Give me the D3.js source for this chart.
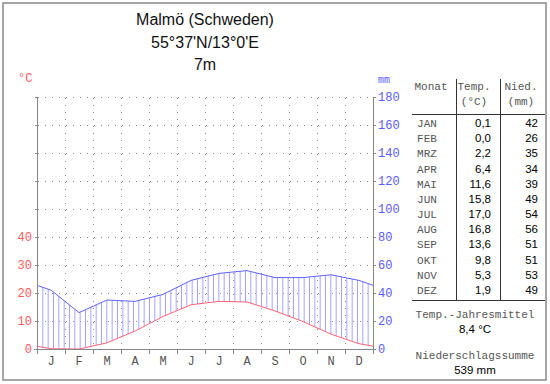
<!DOCTYPE html>
<html>
<head>
<meta charset="utf-8">
<script src="https://cdn.jsdelivr.net/npm/d3@7"></script>
<style>
body { margin: 0; background: #fff; }
svg { display: block; }
.mono { font-family: "Liberation Mono", "DejaVu Sans Mono", monospace; }
.sans { font-family: "Liberation Sans", Arial, sans-serif; }
</style>
</head>
<body>
<div id="chart"></div>
<script>
// Klimadiagramm Malmö
var titleLines = ["Malmö (Schweden)", "55°37'N/13°0'E", "7m"];
var monthLetters = ["J","F","M","A","M","J","J","A","S","O","N","D"];
var monthNames = ["JAN","FEB","MRZ","APR","MAI","JUN","JUL","AUG","SEP","OKT","NOV","DEZ"];
var temp = [0.1, 0.0, 2.2, 6.4, 11.6, 15.8, 17.0, 16.8, 13.6, 9.8, 5.3, 1.9];
var tempText = ["0,1","0,0","2,2","6,4","11,6","15,8","17,0","16,8","13,6","9,8","5,3","1,9"];
var precip = [42, 26, 35, 34, 39, 49, 54, 56, 51, 51, 53, 49];
var tempTicks = [0, 10, 20, 30, 40];
var precipTicks = [0, 20, 40, 60, 80, 100, 120, 140, 160, 180];
var tempMean = "8,4 °C";
var precipSum = "539 mm";

var svg = d3.select("#chart").append("svg")
	.attr("width", 550)
	.attr("height", 384);

// frame
svg.append("rect")
	.attr("x", 3).attr("y", 3)
	.attr("width", 543).attr("height", 377)
	.attr("fill", "none")
	.attr("stroke", "#888")
	.attr("stroke-width", 1.5);

var x = d3.scaleLinear().domain([0, 12]).range([37, 373]);
var yP = d3.scaleLinear().domain([0, 180]).range([349, 97]);
var yT = d3.scaleLinear().domain([0, 90]).range([349, 97]);

// title
svg.selectAll(".title").data(titleLines).enter().append("text")
	.attr("class", "sans")
	.attr("x", x(6))
	.attr("y", function(d, i){ return 25 + i * 22.5; })
	.attr("text-anchor", "middle")
	.attr("font-size", 16)
	.attr("fill", "#111")
	.text(function(d){ return d; });

// grid (dotted)
var grid = svg.append("g").attr("stroke", "#888").attr("stroke-dasharray", "1,6").attr("shape-rendering", "crispEdges");
grid.selectAll(".h").data(precipTicks.slice(1)).enter().append("line")
	.attr("x1", x(0)).attr("x2", x(12))
	.attr("y1", function(d){ return yP(d); }).attr("y2", function(d){ return yP(d); })
	.attr("stroke-dashoffset", -1);
grid.selectAll(".v").data(d3.range(1, 12)).enter().append("line")
	.attr("x1", function(d){ return x(d); }).attr("x2", function(d){ return x(d); })
	.attr("y1", yP(180)).attr("y2", yP(0))
	.attr("stroke-dashoffset", -1);

// cyclic points at month centres, edges from Dec/Jan mean
function pts(vals, scale){
	var p = [[x(0), scale((vals[11] + vals[0]) / 2)]];
	vals.forEach(function(v, i){ p.push([x(i + 0.5), scale(v)]); });
	p.push([x(12), scale((vals[11] + vals[0]) / 2)]);
	return p;
}
var pP = pts(precip, yP);
var pT = pts(temp, yT);

// clip between temperature and precipitation
var area = d3.area()
	.x(function(d){ return d[0]; })
	.y0(function(d, i){ return pT[i][1]; })
	.y1(function(d){ return d[1]; });
svg.append("clipPath").attr("id", "humid")
	.append("path").attr("d", area(pP));

var nHatch = 63;
svg.append("g").attr("clip-path", "url(#humid)")
	.selectAll("line").data(d3.range(0, nHatch + 1)).enter().append("line")
	.attr("x1", function(d){ return x(d * 12 / nHatch) + 0.5; })
	.attr("x2", function(d){ return x(d * 12 / nHatch) + 0.5; })
	.attr("y1", yP(180)).attr("y2", yP(0))
	.attr("stroke", "#a4a4ff")
	.attr("stroke-width", 1);

var line = d3.line();
svg.append("path").attr("d", line(pP))
	.attr("fill", "none").attr("stroke", "#6262ff").attr("stroke-width", 1);
svg.append("path").attr("d", line(pT))
	.attr("fill", "none").attr("stroke", "#ff6272").attr("stroke-width", 1);

// axes
var ax = svg.append("g").attr("stroke", "#888").attr("shape-rendering", "crispEdges");
ax.append("line").attr("x1", x(0)).attr("x2", x(0)).attr("y1", yP(180)).attr("y2", yP(0) + 5);
ax.append("line").attr("x1", x(12)).attr("x2", x(12)).attr("y1", yP(180)).attr("y2", yP(0) + 5);
ax.append("line").attr("x1", x(0) - 3).attr("x2", x(12)).attr("y1", yP(0)).attr("y2", yP(0));
ax.selectAll(".bt").data(d3.range(1, 12)).enter().append("line")
	.attr("x1", function(d){ return x(d); }).attr("x2", function(d){ return x(d); })
	.attr("y1", yP(0)).attr("y2", yP(0) + 5);
ax.selectAll(".rt").data(precipTicks).enter().append("line")
	.attr("x1", x(12)).attr("x2", x(12) + 3)
	.attr("y1", function(d){ return yP(d); }).attr("y2", function(d){ return yP(d); });
ax.selectAll(".lt").data(precipTicks).enter().append("line")
	.attr("x1", x(0) - 2).attr("x2", x(0))
	.attr("y1", function(d){ return yP(d); }).attr("y2", function(d){ return yP(d); });

svg.selectAll(".tl").data(tempTicks).enter().append("text")
	.attr("class", "mono")
	.attr("x", 32).attr("y", function(d){ return yT(d) + 4; })
	.attr("text-anchor", "end").attr("font-size", 12).attr("fill", "#ff5a5a")
	.text(function(d){ return d; });
svg.selectAll(".pl").data(precipTicks).enter().append("text")
	.attr("class", "mono")
	.attr("x", 378).attr("y", function(d){ return yP(d) + 4; })
	.attr("font-size", 12).attr("fill", "#5a5aff")
	.text(function(d){ return d; });
svg.append("text").attr("class", "mono").attr("x", 18).attr("y", 82)
	.attr("font-size", 12).attr("fill", "#ff5a5a").text("°C");
svg.append("text").attr("class", "mono").attr("x", 378).attr("y", 83)
	.attr("font-size", 10).attr("fill", "#5a5aff").text("mm");

svg.selectAll(".ml").data(monthLetters).enter().append("text")
	.attr("class", "mono")
	.attr("x", function(d, i){ return x(i + 0.5); }).attr("y", 365)
	.attr("text-anchor", "middle").attr("font-size", 12).attr("fill", "#555")
	.text(function(d){ return d; });

// table
var tb = svg.append("g");
var rowY = d3.scaleLinear().domain([0, 11]).range([127, 294]);
var tline = tb.append("g").attr("stroke", "#333").attr("shape-rendering", "crispEdges");
tline.append("line").attr("x1", 412).attr("x2", 545).attr("y1", 114).attr("y2", 114);
tline.append("line").attr("x1", 412).attr("x2", 545).attr("y1", 300).attr("y2", 300);
tline.append("line").attr("x1", 456.5).attr("x2", 456.5).attr("y1", 79).attr("y2", 300);
tline.append("line").attr("x1", 500).attr("x2", 500).attr("y1", 79).attr("y2", 300);

var head = [["Monat", 431, 90], ["Temp.", 474, 90], ["(°C)", 474, 105], ["Nied.", 521, 90], ["(mm)", 521, 105]];
tb.selectAll(".hd").data(head).enter().append("text")
	.attr("class", "mono")
	.attr("x", function(d){ return d[1]; }).attr("y", function(d){ return d[2]; })
	.attr("text-anchor", "middle").attr("font-size", 11).attr("fill", "#555")
	.text(function(d){ return d[0]; });

tb.selectAll(".mn").data(monthNames).enter().append("text")
	.attr("class", "mono")
	.attr("x", 427).attr("y", function(d, i){ return rowY(i); })
	.attr("text-anchor", "middle").attr("font-size", 11).attr("fill", "#555")
	.text(function(d){ return d; });
tb.selectAll(".tv").data(tempText).enter().append("text")
	.attr("class", "sans")
	.attr("x", 491).attr("y", function(d, i){ return rowY(i); })
	.attr("text-anchor", "end").attr("font-size", 11.5).attr("fill", "#000")
	.text(function(d){ return d; });
tb.selectAll(".pv").data(precip).enter().append("text")
	.attr("class", "sans")
	.attr("x", 538).attr("y", function(d, i){ return rowY(i); })
	.attr("text-anchor", "end").attr("font-size", 11.5).attr("fill", "#000")
	.text(function(d){ return d; });

tb.append("text").attr("class", "mono").attr("x", 475).attr("y", 318)
	.attr("text-anchor", "middle").attr("font-size", 11).attr("fill", "#555").text("Temp.-Jahresmittel");
tb.append("text").attr("class", "sans").attr("x", 475).attr("y", 333)
	.attr("text-anchor", "middle").attr("font-size", 11.5).attr("fill", "#000").text(tempMean);
tb.append("text").attr("class", "mono").attr("x", 475).attr("y", 359)
	.attr("text-anchor", "middle").attr("font-size", 11).attr("fill", "#555").text("Niederschlagssumme");
tb.append("text").attr("class", "sans").attr("x", 475).attr("y", 374)
	.attr("text-anchor", "middle").attr("font-size", 11.5).attr("fill", "#000").text(precipSum);
</script>
</body>
</html>
